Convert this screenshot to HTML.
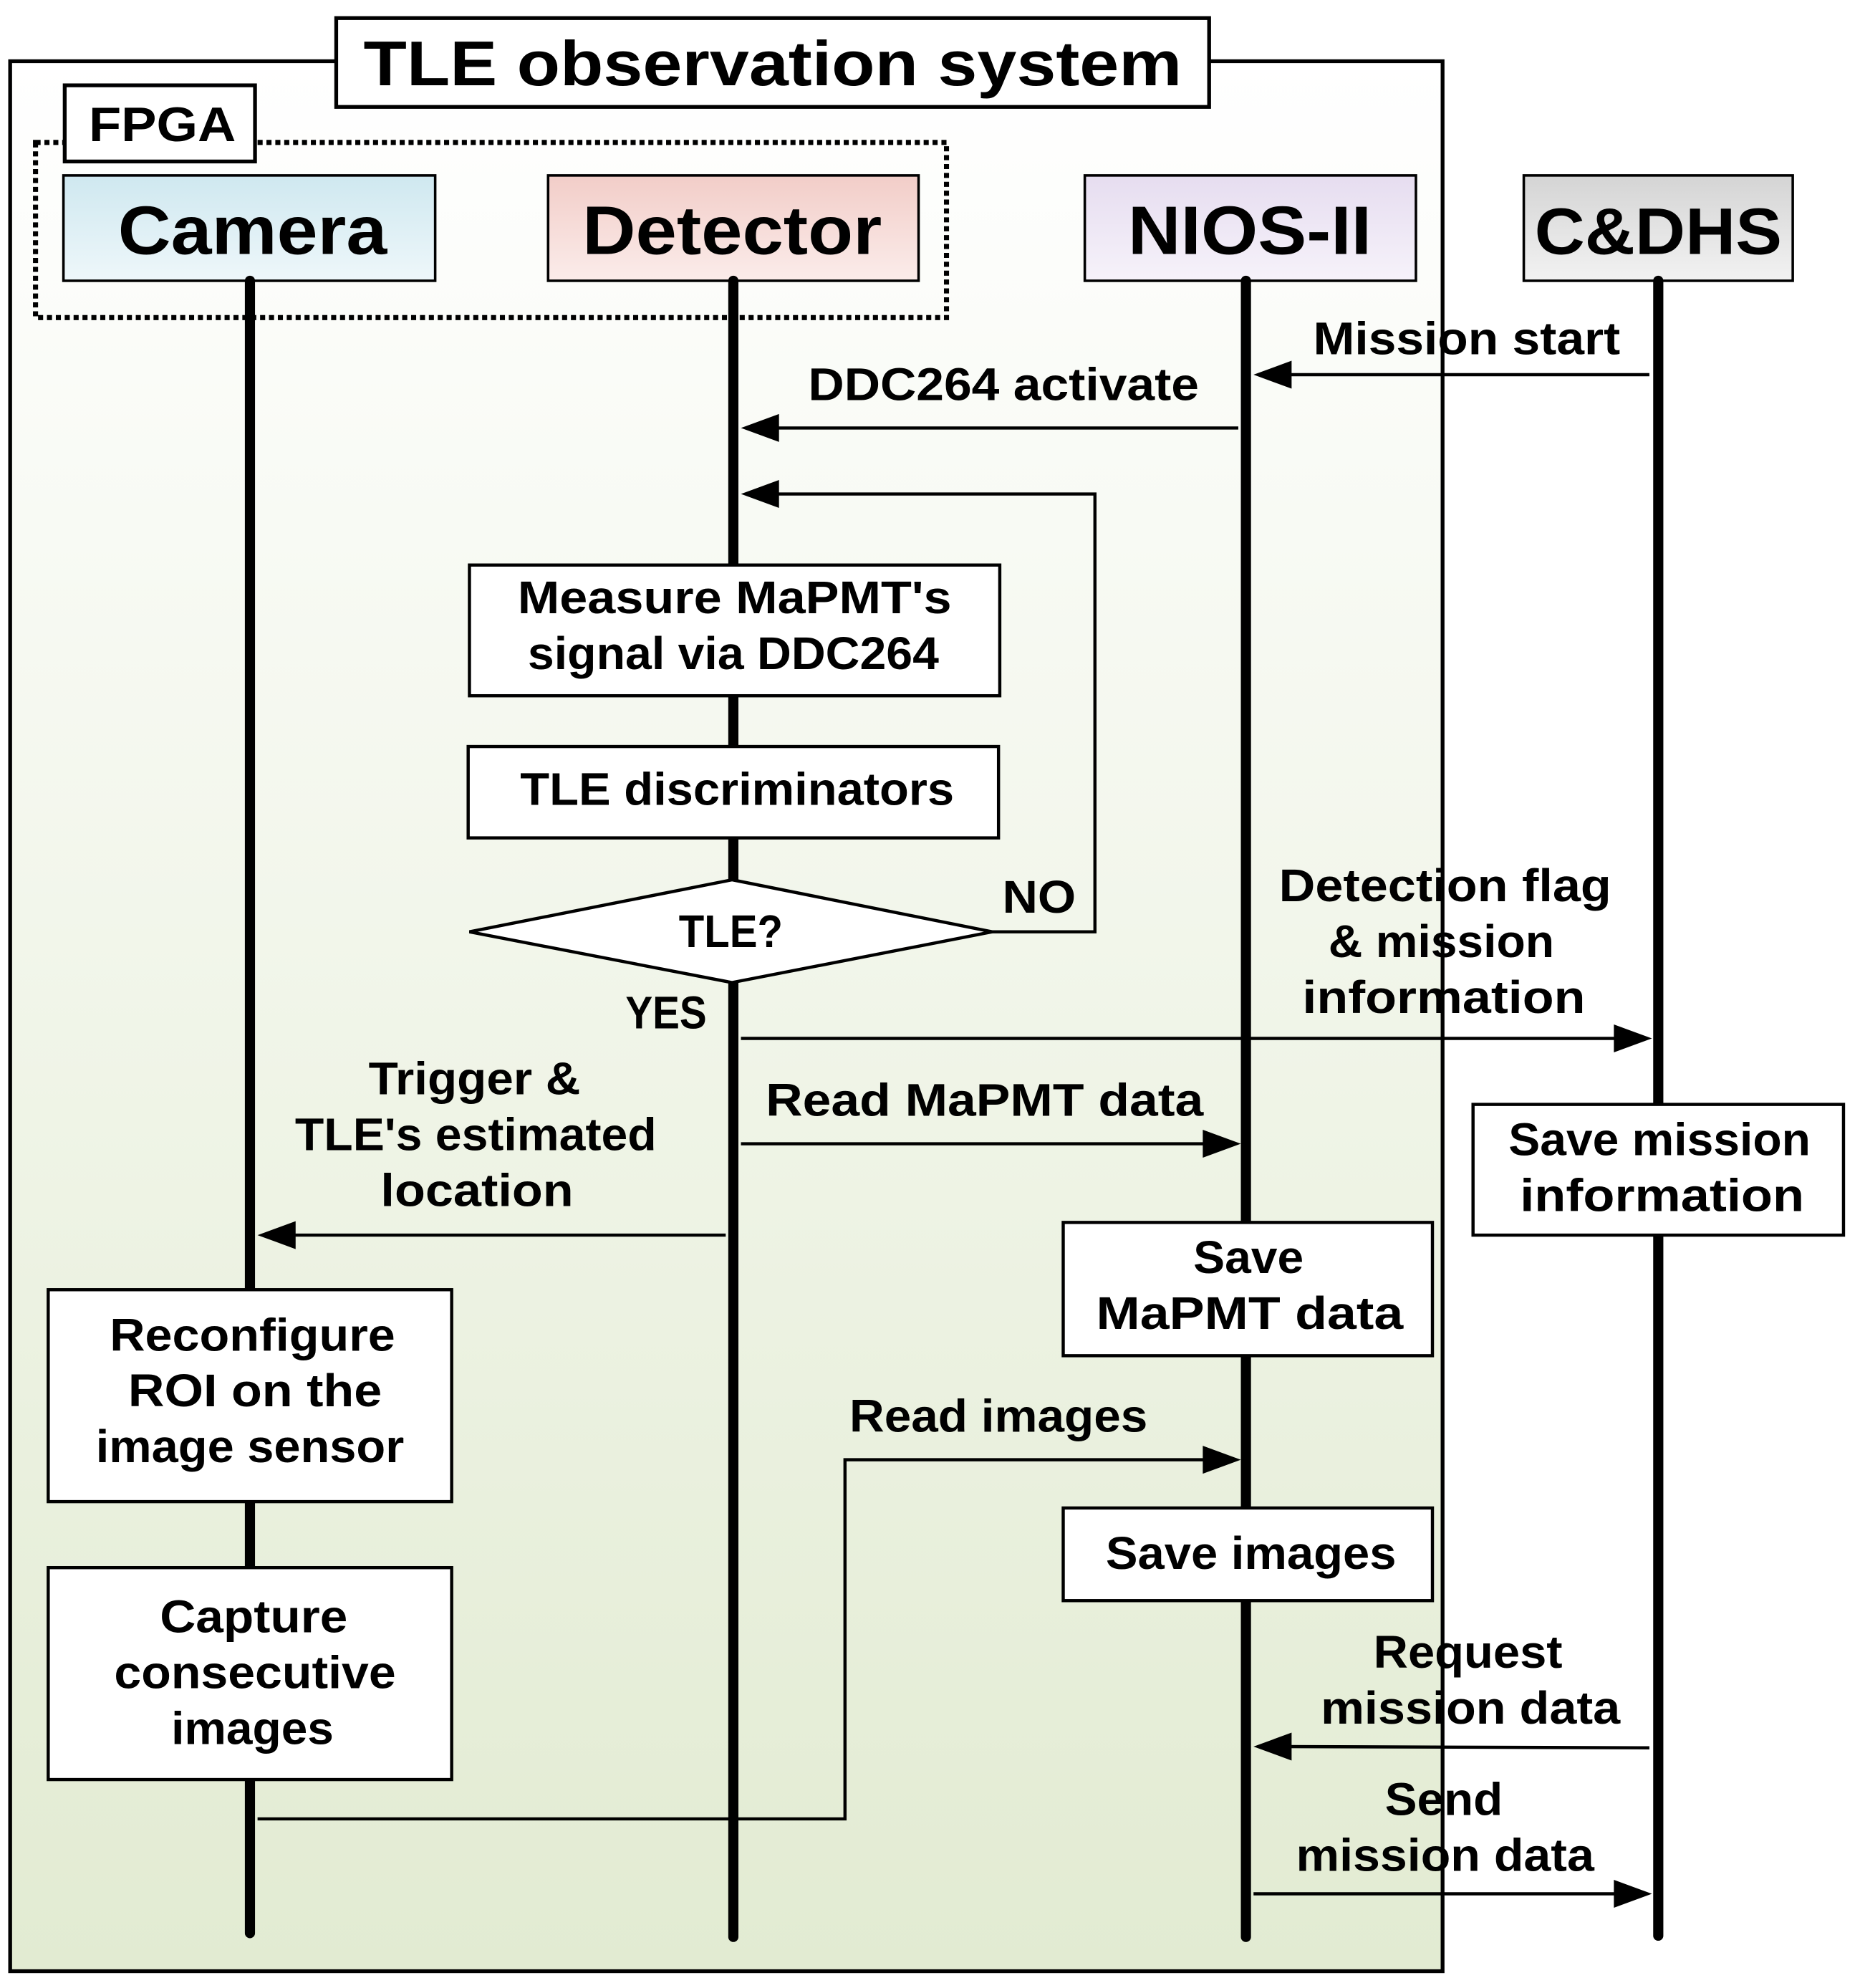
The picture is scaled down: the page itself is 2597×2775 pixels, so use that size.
<!DOCTYPE html>
<html><head><meta charset="utf-8"><style>html,body{margin:0;padding:0;background:#fff}svg{display:block}text{font-family:"Liberation Sans",sans-serif;font-weight:bold;fill:#000}</style></head><body>
<svg width="2597" height="2775" viewBox="0 0 1466 1566" xmlns="http://www.w3.org/2000/svg">
<defs>
<linearGradient id="bg" x1="0" y1="0" x2="0" y2="1"><stop offset="0" stop-color="#ffffff"/><stop offset="1" stop-color="#e2ebd2"/></linearGradient>
<linearGradient id="cam" x1="0" y1="0" x2="0" y2="1"><stop offset="0" stop-color="#cfe8f0"/><stop offset="1" stop-color="#eef7fa"/></linearGradient>
<linearGradient id="det" x1="0" y1="0" x2="0" y2="1"><stop offset="0" stop-color="#f2cdc8"/><stop offset="1" stop-color="#fbecea"/></linearGradient>
<linearGradient id="nio" x1="0" y1="0" x2="0" y2="1"><stop offset="0" stop-color="#e6ddf0"/><stop offset="1" stop-color="#f6f2fa"/></linearGradient>
<linearGradient id="cdh" x1="0" y1="0" x2="0" y2="1"><stop offset="0" stop-color="#d4d4d4"/><stop offset="1" stop-color="#f2f2f2"/></linearGradient>
</defs>
<rect x="8" y="48" width="1129" height="1505" fill="url(#bg)" stroke="#000" stroke-width="3"/>
<rect x="265" y="14" width="688" height="70" fill="#fff" stroke="#000" stroke-width="3"/>
<text x="609" y="67" font-size="50" text-anchor="middle" textLength="645" lengthAdjust="spacingAndGlyphs">TLE observation system</text>
<rect x="28" y="112" width="718" height="138" fill="none" stroke="#000" stroke-width="4" stroke-dasharray="4,3"/>
<rect x="51" y="67" width="150" height="60" fill="#fff" stroke="#000" stroke-width="3"/>
<text x="128" y="111" font-size="38" text-anchor="middle" textLength="116" lengthAdjust="spacingAndGlyphs">FPGA</text>
<rect x="50" y="138" width="293" height="83" fill="url(#cam)" stroke="#000" stroke-width="2"/>
<text x="199" y="200" font-size="54" text-anchor="middle" textLength="212" lengthAdjust="spacingAndGlyphs">Camera</text>
<rect x="432" y="138" width="292" height="83" fill="url(#det)" stroke="#000" stroke-width="2"/>
<text x="577" y="200" font-size="54" text-anchor="middle" textLength="236" lengthAdjust="spacingAndGlyphs">Detector</text>
<rect x="855" y="138" width="261" height="83" fill="url(#nio)" stroke="#000" stroke-width="2"/>
<text x="985" y="200" font-size="54" text-anchor="middle" textLength="192" lengthAdjust="spacingAndGlyphs">NIOS-II</text>
<rect x="1201" y="138" width="212" height="83" fill="url(#cdh)" stroke="#000" stroke-width="2"/>
<text x="1307" y="200" font-size="52" text-anchor="middle" textLength="195" lengthAdjust="spacingAndGlyphs">C&amp;DHS</text>
<g stroke="#000" stroke-width="8" stroke-linecap="round">
<line x1="197" y1="221" x2="197" y2="1523"/><line x1="578" y1="221" x2="578" y2="1526"/>
<line x1="982" y1="221" x2="982" y2="1526"/><line x1="1307" y1="221" x2="1307" y2="1525"/>
</g>
<g stroke="#000" stroke-width="2.5" fill="none">
<line x1="1300" y1="295" x2="1010" y2="295"/>
<line x1="976" y1="337" x2="610" y2="337"/>
<polyline points="782,734 863,734 863,389 610,389"/>
<line x1="584" y1="818" x2="1275" y2="818"/>
<line x1="584" y1="901" x2="950" y2="901"/>
<line x1="572" y1="973" x2="230" y2="973"/>
<polyline points="203,1433 666,1433 666,1150 950,1150"/>
<line x1="1300" y1="1377" x2="1010" y2="1376"/>
<line x1="988" y1="1492" x2="1275" y2="1492"/>
</g>
<g fill="#000">
<polygon points="988,295 1018,284 1018,306"/>
<polygon points="584,337 614,326 614,348"/>
<polygon points="584,389 614,378 614,400"/>
<polygon points="1302,818 1272,807 1272,829"/>
<polygon points="978,901 948,890 948,912"/>
<polygon points="203,973 233,962 233,984"/>
<polygon points="978,1150 948,1139 948,1161"/>
<polygon points="988,1376 1018,1365 1018,1387"/>
<polygon points="1302,1492 1272,1481 1272,1503"/>
</g>
<g stroke="#000" stroke-width="2.5" fill="#fff">
<rect x="370" y="445" width="418" height="103"/>
<rect x="369" y="588" width="418" height="72"/>
<polygon points="370,734 577,693 782,734 577,774"/>
<rect x="1161" y="870" width="292" height="103"/>
<rect x="838" y="963" width="291" height="105"/>
<rect x="38" y="1016" width="318" height="167"/>
<rect x="38" y="1235" width="318" height="167"/>
<rect x="838" y="1188" width="291" height="73"/>
</g>
<g font-size="36" text-anchor="middle" lengthAdjust="spacingAndGlyphs">
<text x="1156" y="279" textLength="242" lengthAdjust="spacingAndGlyphs">Mission start</text>
<text x="791" y="315" textLength="308" lengthAdjust="spacingAndGlyphs">DDC264 activate</text>
<text x="579" y="483" textLength="342" lengthAdjust="spacingAndGlyphs">Measure MaPMT's</text>
<text x="578" y="527" textLength="324" lengthAdjust="spacingAndGlyphs">signal via DDC264</text>
<text x="581" y="634" textLength="342" lengthAdjust="spacingAndGlyphs">TLE discriminators</text>
<text x="576" y="746" textLength="82" lengthAdjust="spacingAndGlyphs">TLE?</text>
<text x="819" y="719" textLength="58" lengthAdjust="spacingAndGlyphs">NO</text>
<text x="525" y="810" textLength="64" lengthAdjust="spacingAndGlyphs">YES</text>
<text x="1139" y="710" textLength="262" lengthAdjust="spacingAndGlyphs">Detection flag</text>
<text x="1136" y="754" textLength="178" lengthAdjust="spacingAndGlyphs">&amp; mission</text>
<text x="1138" y="798" textLength="223" lengthAdjust="spacingAndGlyphs">information</text>
<text x="776" y="879" textLength="345" lengthAdjust="spacingAndGlyphs">Read MaPMT data</text>
<text x="374" y="862" textLength="167" lengthAdjust="spacingAndGlyphs">Trigger &amp;</text>
<text x="375" y="906" textLength="285" lengthAdjust="spacingAndGlyphs">TLE's estimated</text>
<text x="376" y="950" textLength="152" lengthAdjust="spacingAndGlyphs">location</text>
<text x="1308" y="910" textLength="238" lengthAdjust="spacingAndGlyphs">Save mission</text>
<text x="1310" y="954" textLength="224" lengthAdjust="spacingAndGlyphs">information</text>
<text x="984" y="1003" textLength="87" lengthAdjust="spacingAndGlyphs">Save</text>
<text x="985" y="1047" textLength="242" lengthAdjust="spacingAndGlyphs">MaPMT data</text>
<text x="199" y="1064" textLength="225" lengthAdjust="spacingAndGlyphs">Reconfigure</text>
<text x="201" y="1108" textLength="200" lengthAdjust="spacingAndGlyphs">ROI on the</text>
<text x="197" y="1152" textLength="243" lengthAdjust="spacingAndGlyphs">image sensor</text>
<text x="787" y="1128" textLength="235" lengthAdjust="spacingAndGlyphs">Read images</text>
<text x="986" y="1236" textLength="229" lengthAdjust="spacingAndGlyphs">Save images</text>
<text x="200" y="1286" textLength="148" lengthAdjust="spacingAndGlyphs">Capture</text>
<text x="201" y="1330" textLength="222" lengthAdjust="spacingAndGlyphs">consecutive</text>
<text x="199" y="1374" textLength="128" lengthAdjust="spacingAndGlyphs">images</text>
<text x="1157" y="1314" textLength="149" lengthAdjust="spacingAndGlyphs">Request</text>
<text x="1159" y="1358" textLength="236" lengthAdjust="spacingAndGlyphs">mission data</text>
<text x="1138" y="1430" textLength="93" lengthAdjust="spacingAndGlyphs">Send</text>
<text x="1139" y="1474" textLength="235" lengthAdjust="spacingAndGlyphs">mission data</text>
</g>
</svg>
</body></html>
